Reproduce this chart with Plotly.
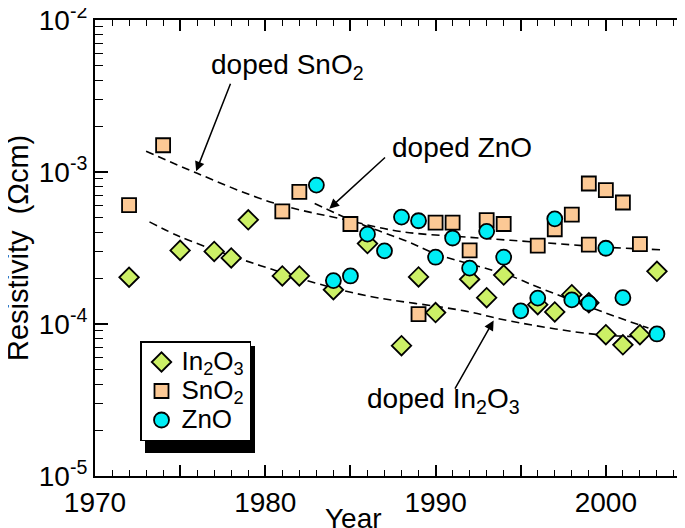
import plotly.graph_objects as go

# ---- data ----
in2o3_year = [1972, 1975, 1977, 1978, 1979, 1981, 1982, 1984, 1986, 1988, 1989, 1990,
              1992, 1993, 1994, 1996, 1997, 1998, 1999, 2000, 2001, 2002, 2003]
in2o3_rho = [2.03e-4, 3.05e-4, 3.0e-4, 2.72e-4, 4.85e-4, 2.07e-4, 2.07e-4, 1.68e-4, 3.38e-4,
             7.2e-5, 2.04e-4, 1.19e-4, 1.97e-4, 1.49e-4, 2.1e-4, 1.34e-4, 1.2e-4, 1.56e-4,
             1.38e-4, 8.5e-5, 7.3e-5, 8.5e-5, 2.22e-4]

sno2_year = [1972, 1974, 1981, 1982, 1985, 1989, 1990, 1991, 1992, 1993, 1994, 1996, 1997,
             1998, 1999, 1999, 2000, 2001, 2002]
sno2_rho = [6.05e-4, 1.5e-3, 5.5e-4, 7.4e-4, 4.55e-4, 1.16e-4, 4.65e-4, 4.65e-4, 3.05e-4,
            4.82e-4, 4.55e-4, 3.28e-4, 4.2e-4, 5.25e-4, 8.4e-4, 3.33e-4, 7.6e-4, 6.3e-4, 3.35e-4]

zno_year = [1983, 1984, 1985, 1986, 1987, 1988, 1989, 1990, 1991, 1992, 1993, 1994, 1995,
            1996, 1997, 1998, 1999, 2000, 2001, 2003]
zno_rho = [8.2e-4, 1.93e-4, 2.07e-4, 3.9e-4, 3.03e-4, 5.05e-4, 4.78e-4, 2.75e-4, 3.68e-4,
           2.33e-4, 4.07e-4, 2.75e-4, 1.22e-4, 1.48e-4, 4.92e-4, 1.44e-4, 1.37e-4, 3.15e-4,
           1.49e-4, 8.6e-5]

# dashed trend curves
fit_sno2_year = [1973, 1976, 1980.4, 1984.7, 1988, 1992, 1996, 2000, 2003.2]
fit_sno2_rho = [1.37e-3, 9.8e-4, 6.3e-4, 4.85e-4, 4.05e-4, 3.72e-4, 3.45e-4, 3.2e-4, 3.08e-4]

fit_zno_year = [1982.9, 1985.3, 1988.4, 1990, 1994.3, 1996, 2000, 2002.5]
fit_zno_rho = [6.2e-4, 4.7e-4, 3.47e-4, 2.9e-4, 2.09e-4, 1.75e-4, 1.18e-4, 9.4e-5]

fit_in2o3_year = [1973.2, 1975, 1978.2, 1980.6, 1983.1, 1986, 1991.7, 1994.3, 1999.4, 2003]
fit_in2o3_rho = [4.7e-4, 3.75e-4, 2.76e-4, 2.25e-4, 1.84e-4, 1.53e-4, 1.22e-4, 1.05e-4, 8.55e-5, 8.2e-5]

x_ticks = [1970, 1975, 1980, 1985, 1990, 1995, 2000, 2005]
x_ticktext = ["1970", "", "1980", "", "1990", "", "2000", ""]
y_ticks = [1e-5, 1e-4, 1e-3, 1e-2]
y_ticktext = ["10<sup>-5</sup>", "10<sup>-4</sup>", "10<sup>-3</sup>", "10<sup>-2</sup>"]

series_names = ["In<sub>2</sub>O<sub>3</sub>", "SnO<sub>2</sub>", "ZnO"]
x_title = "Year"
y_title = "Resistivity  (Ωcm)"

FONT = "Liberation Sans, Arial, sans-serif"

# plot area in pixels
L, T, W, H = 87, 12, 596, 456

fig = go.Figure()

dash_line = dict(color="black", width=1.6, dash="8px,5px", shape="spline")
for xs, ys in [(fit_sno2_year, fit_sno2_rho), (fit_zno_year, fit_zno_rho),
               (fit_in2o3_year, fit_in2o3_rho)]:
    fig.add_trace(go.Scatter(x=xs, y=ys, mode="lines", line=dash_line,
                             showlegend=False, hoverinfo="skip"))


def leg(name):
    return '<span style="font-size:26px">' + name + '</span>'


fig.add_trace(go.Scatter(
    x=in2o3_year, y=in2o3_rho, mode="markers", name=leg(series_names[0]),
    marker=dict(symbol="diamond", size=15, color="#ccf066",
                line=dict(color="black", width=1.8))))
fig.add_trace(go.Scatter(
    x=sno2_year, y=sno2_rho, mode="markers", name=leg(series_names[1]),
    marker=dict(symbol="square", size=14, color="#fcc995",
                line=dict(color="black", width=1.8))))
fig.add_trace(go.Scatter(
    x=zno_year, y=zno_rho, mode="markers", name=leg(series_names[2]),
    marker=dict(symbol="circle", size=15, color="#00eef5",
                line=dict(color="black", width=1.8))))

# annotations: text labels
labels = [
    (1981.33, -2.303, "doped SnO<sub>2</sub>"),
    (1991.56, -2.839, "doped ZnO"),
    (1990.45, -4.502, "doped In<sub>2</sub>O<sub>3</sub>"),
]
for x, y, t in labels:
    fig.add_annotation(x=x, y=y, xref="x", yref="y", text=t, showarrow=False,
                       font=dict(family=FONT, size=28, color="black"))

# arrows (tail -> tip)
arrows = [
    (1977.99, -2.41, 1975.94, -2.995),
    (1987.12, -2.896, 1983.76, -3.241),
    (1991.09, -4.435, 1993.41, -3.977),
]
for ax, ay, x, y in arrows:
    fig.add_annotation(x=x, y=y, ax=ax, ay=ay, xref="x", yref="y", axref="x", ayref="y",
                       text="", showarrow=True, arrowhead=2, arrowsize=1.3,
                       arrowwidth=1.5, arrowcolor="black")

# axis titles (placed as in the reference)
fig.add_annotation(x=(345 - L) / W, y=1 - (510 - T) / H, xref="paper", yref="paper",
                   text=x_title, showarrow=False, xanchor="center", yanchor="middle",
                   font=dict(family=FONT, size=28, color="black"))
fig.add_annotation(x=(10 - L) / W, y=0.5, xref="paper", yref="paper",
                   text=y_title, showarrow=False, textangle=-90,
                   xanchor="center", yanchor="middle",
                   font=dict(family=FONT, size=29, color="black"))

# legend shadow (pixel box converted to paper coords)
sx0, sx1, sy0, sy1 = 137, 247, 338, 445
fig.add_shape(type="rect", xref="paper", yref="paper",
              x0=(sx0 - L) / W, x1=(sx1 - L) / W,
              y0=1 - (sy1 - T) / H, y1=1 - (sy0 - T) / H,
              fillcolor="black", line=dict(width=0), layer="above")

fig.update_layout(
    width=685, height=528,
    margin=dict(l=L, r=685 - L - W, t=T, b=528 - T - H),
    paper_bgcolor="white", plot_bgcolor="white",
    font=dict(family=FONT, size=28, color="black"),
    legend=dict(x=(132 - L) / W, y=1 - (333 - T) / H, xanchor="left", yanchor="top",
                bgcolor="white", bordercolor="black", borderwidth=1.5,
                font=dict(family=FONT, size=20), tracegroupgap=0, itemwidth=30),
    xaxis=dict(range=[1970, 2005], tickvals=x_ticks, ticktext=x_ticktext,
               ticks="inside", ticklen=11, tickwidth=1.5, tickcolor="black",
               showline=True, linecolor="black", linewidth=2, mirror="ticks",
               showgrid=False, zeroline=False, automargin=False,
               ticklabeloverflow="allow",
               minor=dict(dtick=1, ticks="inside", ticklen=6, tickwidth=1.2, tickcolor="black",
                          showgrid=False),
               tickfont=dict(size=28)),
    yaxis=dict(type="log", range=[-5, -2], tickvals=y_ticks, ticktext=y_ticktext,
               ticks="inside", ticklen=13, tickwidth=1.5, tickcolor="black",
               showline=True, linecolor="black", linewidth=2, mirror="ticks",
               showgrid=False, zeroline=False, automargin=False,
               ticklabeloverflow="allow",
               minor=dict(dtick="D1", ticks="inside", ticklen=8, tickwidth=1.2, tickcolor="black",
                          showgrid=False),
               tickfont=dict(size=28)),
)

fig.write_html("out.html")
